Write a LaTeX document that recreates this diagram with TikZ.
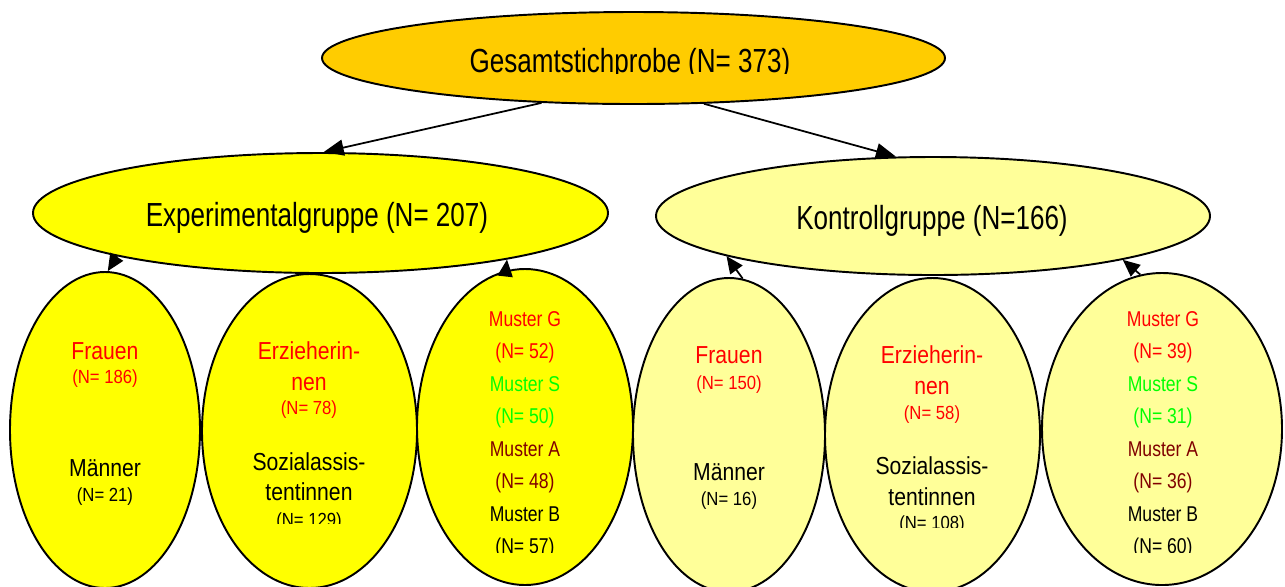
\documentclass[tikz,border=0pt]{standalone}
\usepackage{fontspec}
\usetikzlibrary{shapes.geometric,arrows.meta}
\setmainfont{Liberation Sans}
% narrow Arial-like faces
\newfontfamily\headfont[FakeStretch=0.78]{Liberation Sans}
\newfontfamily\labelfont[FakeStretch=0.86]{Liberation Sans}
\newfontfamily\countfont[FakeStretch=0.88]{Liberation Sans}
\newfontfamily\musterfont[FakeStretch=0.82]{Liberation Sans}
\definecolor{gold}{HTML}{FFCC00}
\definecolor{yel}{HTML}{FFFF00}
\definecolor{paleyel}{HTML}{FFFF99}
\definecolor{mred}{HTML}{FF0000}
\definecolor{mgreen}{HTML}{00FF00}
\definecolor{mbrown}{HTML}{800000}
\tikzset{
  blob/.style={ellipse, draw=black, line width=1.1pt, inner sep=0pt},
  lbl/.style={anchor=base, inner sep=0pt},
  head/.style={lbl, font=\headfont\fontsize{19}{22}\selectfont},
  grp/.style={lbl, font=\labelfont\fontsize{14}{16}\selectfont},
  cnt/.style={lbl, font=\countfont\fontsize{10.8}{13}\selectfont},
  mus/.style={lbl, font=\musterfont\fontsize{12.2}{14}\selectfont},
  link/.style={line width=1pt, -{Triangle[length=4mm,width=3.2mm]}},
  minilink/.style={line width=1pt, -{Triangle[length=3.4mm,width=3mm]}},
}
\begin{document}
\begin{tikzpicture}[x=0.2mm, y=-0.2mm]
\useasboundingbox[fill=white] (0,0) rectangle (1285,586);

% sample ellipses
\node[blob, fill=gold,    minimum width=124.6mm, minimum height=18.4mm] (top) at (633.5,58) {};
\node[blob, fill=yel,     minimum width=115mm,   minimum height=24mm]   (exp) at (320.5,213) {};
\node[blob, fill=paleyel, minimum width=110.8mm, minimum height=23.6mm] (kon) at (933,216) {};

\node[blob, fill=yel,     minimum width=38mm,   minimum height=63.2mm] (fe) at (105,430) {};
\node[blob, fill=yel,     minimum width=43mm,   minimum height=62.8mm] (ee) at (309.5,431) {};
\node[blob, fill=yel,     minimum width=43.2mm, minimum height=63.2mm] (me) at (525,427) {};
\node[blob, fill=paleyel, minimum width=38.4mm, minimum height=62.8mm] (fk) at (729,435) {};
\node[blob, fill=paleyel, minimum width=43mm,   minimum height=62.8mm] (ek) at (932.5,435) {};
\node[blob, fill=paleyel, minimum width=48mm,   minimum height=62.4mm] (mk) at (1162,429) {};

% headings
\begin{scope}
  \clip (400,30) rectangle (860,73);
  \node[head] (toptxt) at (630,72) {Gesamtstichprobe (N= 373)};
\end{scope}
\node[head] (exptxt) at (317,226) {Experimentalgruppe (N= 207)};
\node[head] (kontxt) at (932,229) {Kontrollgruppe (N=166)};

% Experimentalgruppe: Geschlecht
\node[grp, text=mred] (fe1) at (105,359) {Frauen};
\node[cnt, text=mred] (fe2) at (105,383) {(N= 186)};
\node[grp] (fe3) at (105,476) {Männer};
\node[cnt] (fe4) at (105,501) {(N= 21)};

% Experimentalgruppe: Beruf
\node[grp, text=mred] (ee1) at (309,359) {Erzieherin-};
\node[grp, text=mred] (ee2) at (309,390) {nen};
\node[cnt, text=mred] (ee3) at (309,414) {(N= 78)};
\node[grp] (ee4) at (309,470) {Sozialassis-};
\node[grp] (ee5) at (309,500) {tentinnen};
\begin{scope}
  \clip (250,505) rectangle (370,523);
  \node[cnt] (ee6) at (309,526) {(N= 129)};
\end{scope}

% Experimentalgruppe: Muster
\node[mus, text=mred]   (me1) at (525,326)   {Muster G};
\node[mus, text=mred]   (me2) at (525,358.5) {(N= 52)};
\node[mus, text=mgreen] (me3) at (525,391)   {Muster S};
\node[mus, text=mgreen] (me4) at (525,423.5) {(N= 50)};
\node[mus, text=mbrown] (me5) at (525,456)   {Muster A};
\node[mus, text=mbrown] (me6) at (525,488.5) {(N= 48)};
\node[mus]              (me7) at (525,521)   {Muster B};
\begin{scope}
  \clip (470,530) rectangle (580,552);
  \node[mus] (me8) at (525,553.5) {(N= 57)};
\end{scope}

% Kontrollgruppe: Geschlecht
\node[grp, text=mred] (fk1) at (729,363) {Frauen};
\node[cnt, text=mred] (fk2) at (729,389) {(N= 150)};
\node[grp] (fk3) at (729,480) {Männer};
\node[cnt] (fk4) at (729,505) {(N= 16)};

% Kontrollgruppe: Beruf
\node[grp, text=mred] (ek1) at (932,363) {Erzieherin-};
\node[grp, text=mred] (ek2) at (932,394) {nen};
\node[cnt, text=mred] (ek3) at (932,419) {(N= 58)};
\node[grp] (ek4) at (932,474) {Sozialassis-};
\node[grp] (ek5) at (932,505) {tentinnen};
\begin{scope}
  \clip (870,508) rectangle (995,527);
  \node[cnt] (ek6) at (932,529) {(N= 108)};
\end{scope}

% Kontrollgruppe: Muster
\node[mus, text=mred]   (mk1) at (1163,326)   {Muster G};
\node[mus, text=mred]   (mk2) at (1163,358.5) {(N= 39)};
\node[mus, text=mgreen] (mk3) at (1163,391)   {Muster S};
\node[mus, text=mgreen] (mk4) at (1163,423.5) {(N= 31)};
\node[mus, text=mbrown] (mk5) at (1163,456)   {Muster A};
\node[mus, text=mbrown] (mk6) at (1163,488.5) {(N= 36)};
\node[mus]              (mk7) at (1163,521)   {Muster B};
\begin{scope}
  \clip (1100,530) rectangle (1225,552);
  \node[mus] (mk8) at (1163,553.5) {(N= 60)};
\end{scope}

% connectors
\draw[link] (top.206.2) -- (exp.87);
\draw[link] (top.327) -- (kon.122.8);
\draw[minilink] (exp.192.2) -- (fe.89);
\draw[minilink] (me.97.3) -- (exp.346.2);
\draw[minilink] (fk.85.6) -- (kon.191.8);
\draw[minilink] (mk.98.2) -- (kon.347);
\end{tikzpicture}
\end{document}
